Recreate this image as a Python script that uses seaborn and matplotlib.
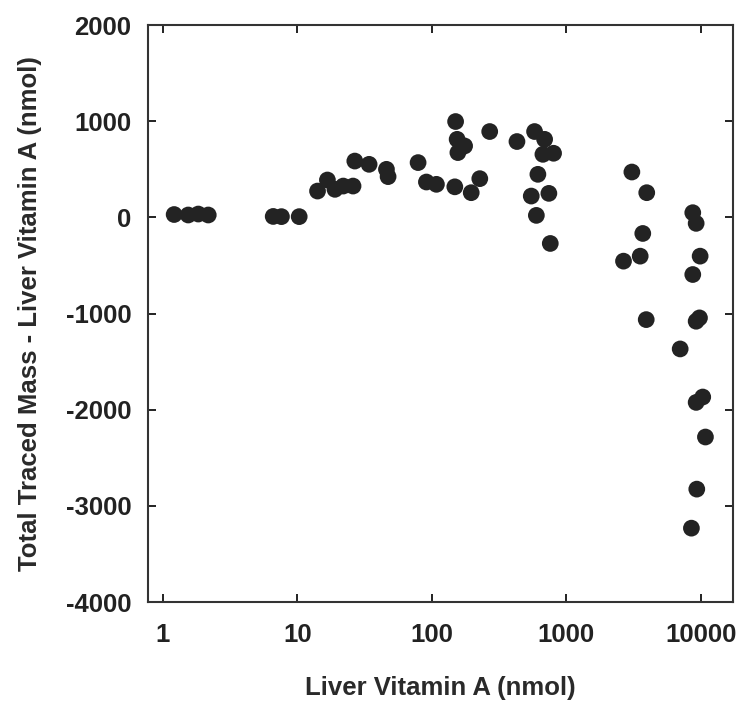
import numpy as np
import pandas as pd
import matplotlib
matplotlib.use('Agg')
import matplotlib.pyplot as plt
import seaborn as sns

# liver vitamin A (nmol) vs total traced mass - liver vitamin A (nmol)
liver_va = [1.21, 1.54, 1.83, 2.17,
            6.6, 7.6, 10.3,
            14.1, 16.7, 19.0, 21.9, 25.9, 26.7, 34.1, 45.9, 47.2,
            78.9, 91, 108, 148, 150, 154, 175, 156, 196, 227, 269,
            429, 580, 689, 669, 803, 614, 548, 741, 598, 759,
            3070, 3960, 3700, 2660, 3540,
            8710, 9230, 9880, 8710, 3925, 9230, 9770, 7020,
            9230, 10330, 10820, 9330, 8510]
mass_diff = [30, 25, 35, 25,
             10, 8, 8,
             274, 389, 292, 326, 326, 586, 552, 500, 424,
             570, 368, 344, 318, 997, 812, 743, 674, 257, 403, 893,
             789, 893, 812, 656, 667, 448, 222, 250, 21, -271,
             472, 257, -167, -455, -403,
             49, -62, -403, -594, -1063, -1080, -1045, -1368,
             -1924, -1868, -2284, -2826, -3232]

x_ticks = [1, 10, 100, 1000, 10000]
x_tick_labels = ['1', '10', '100', '1000', '10000']
y_ticks = [-4000, -3000, -2000, -1000, 0, 1000, 2000]

df = pd.DataFrame({'liver': liver_va, 'diff': mass_diff})

sns.set_style('ticks')
plt.rcParams['font.family'] = ['Liberation Sans', 'DejaVu Sans']
plt.rcParams['axes.unicode_minus'] = False

fig = plt.figure(figsize=(7.44, 7.07), dpi=100)
ax = fig.add_axes([0.199, 0.1485, 0.786, 0.816])

sns.scatterplot(data=df, x='liver', y='diff', ax=ax, s=145, color='#232323',
                edgecolor='none', linewidth=0, legend=False)

ax.set_xscale('log')
ax.set_xlim(0.774, 17300)
ax.set_ylim(-4000, 2000)
ax.set_xticks(x_ticks)
ax.set_xticklabels(x_tick_labels)
ax.xaxis.set_minor_locator(matplotlib.ticker.NullLocator())
ax.set_yticks(y_ticks)
ax.set_yticklabels([str(v) for v in y_ticks])

ax.tick_params(axis='both', which='major', direction='in', length=6, width=1.4,
               top=True, right=True, labelsize=18.5, colors='#222222')
ax.tick_params(axis='x', pad=15)
ax.tick_params(axis='y', pad=12)
for lab in ax.get_xticklabels() + ax.get_yticklabels():
    lab.set_fontweight('bold')
for sp in ax.spines.values():
    sp.set_linewidth(1.5)
    sp.set_color('#333333')

ax.set_xlabel('Liver Vitamin A (nmol)', fontsize=18.5, fontweight='bold',
              color='#2a2a2a', labelpad=21)
ax.set_ylabel('Total Traced Mass - Liver Vitamin A (nmol)', fontsize=18.5,
              fontweight='bold', color='#2a2a2a', labelpad=17)

fig.savefig('out.png', dpi=100)
